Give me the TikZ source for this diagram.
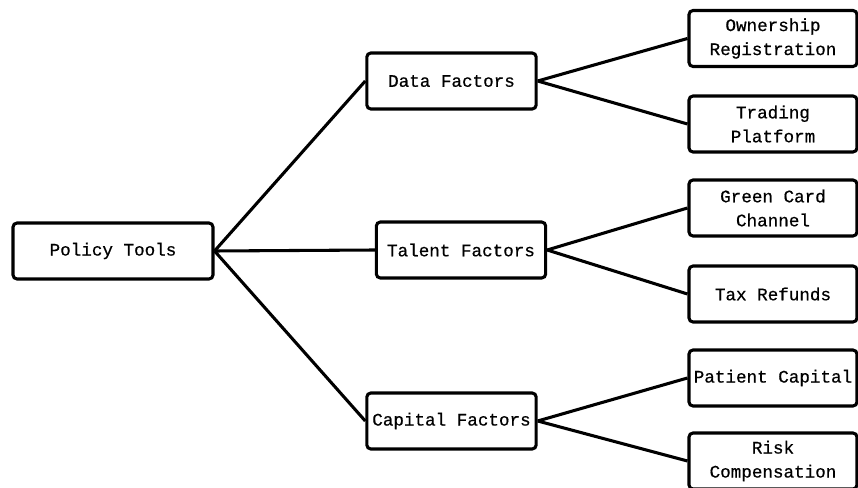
\documentclass[tikz,border=0pt]{standalone}
\usepackage{fontspec}
\setmonofont[FakeBold=0.6]{Liberation Mono}
\usepackage{tikz}

\begin{document}
\begin{tikzpicture}[x=0.75pt,y=-0.75pt,
		box/.style={draw,line width=2.3pt,rounded corners=3pt,align=center,inner sep=0pt,
			minimum height=42pt,font=\ttfamily\fontsize{13.2}{18}\selectfont},
		link/.style={line width=2.3pt}]
			\useasboundingbox (0,0) rectangle (858,488);
			
			\node[box,minimum width=150pt] (tools) at (113,251) {Policy Tools};
			
			\node[box,minimum width=127pt] (data) at (451.5,81) {Data Factors};
			\node[box,minimum width=127pt] (talent) at (461,250) {Talent Factors};
			\node[box,minimum width=127pt] (capital) at (451.5,421) {Capital Factors};
			
			\node[box,minimum width=126pt] (owner) at (773,38.5) {Ownership\\Registration};
			\node[box,minimum width=126pt] (trade) at (773,124) {Trading\\Platform};
			\node[box,minimum width=126pt] (green) at (773,208) {Green Card\\Channel};
			\node[box,minimum width=126pt] (tax) at (773,294) {Tax Refunds};
			\node[box,minimum width=126pt] (patient) at (773,378) {Patient Capital};
			\node[box,minimum width=126pt] (risk) at (773,461) {Risk\\Compensation};
			
			\draw[link] (tools.east) -- (data.west);
			\draw[link] (tools.east) -- (talent.west);
			\draw[link] (tools.east) -- (capital.west);
			
			\draw[link] (data.east) -- (owner.west);
			\draw[link] (data.east) -- (trade.west);
			\draw[link] (talent.east) -- (green.west);
			\draw[link] (talent.east) -- (tax.west);
			\draw[link] (capital.east) -- (patient.west);
			\draw[link] (capital.east) -- (risk.west);
		\end{tikzpicture}
\end{document}
